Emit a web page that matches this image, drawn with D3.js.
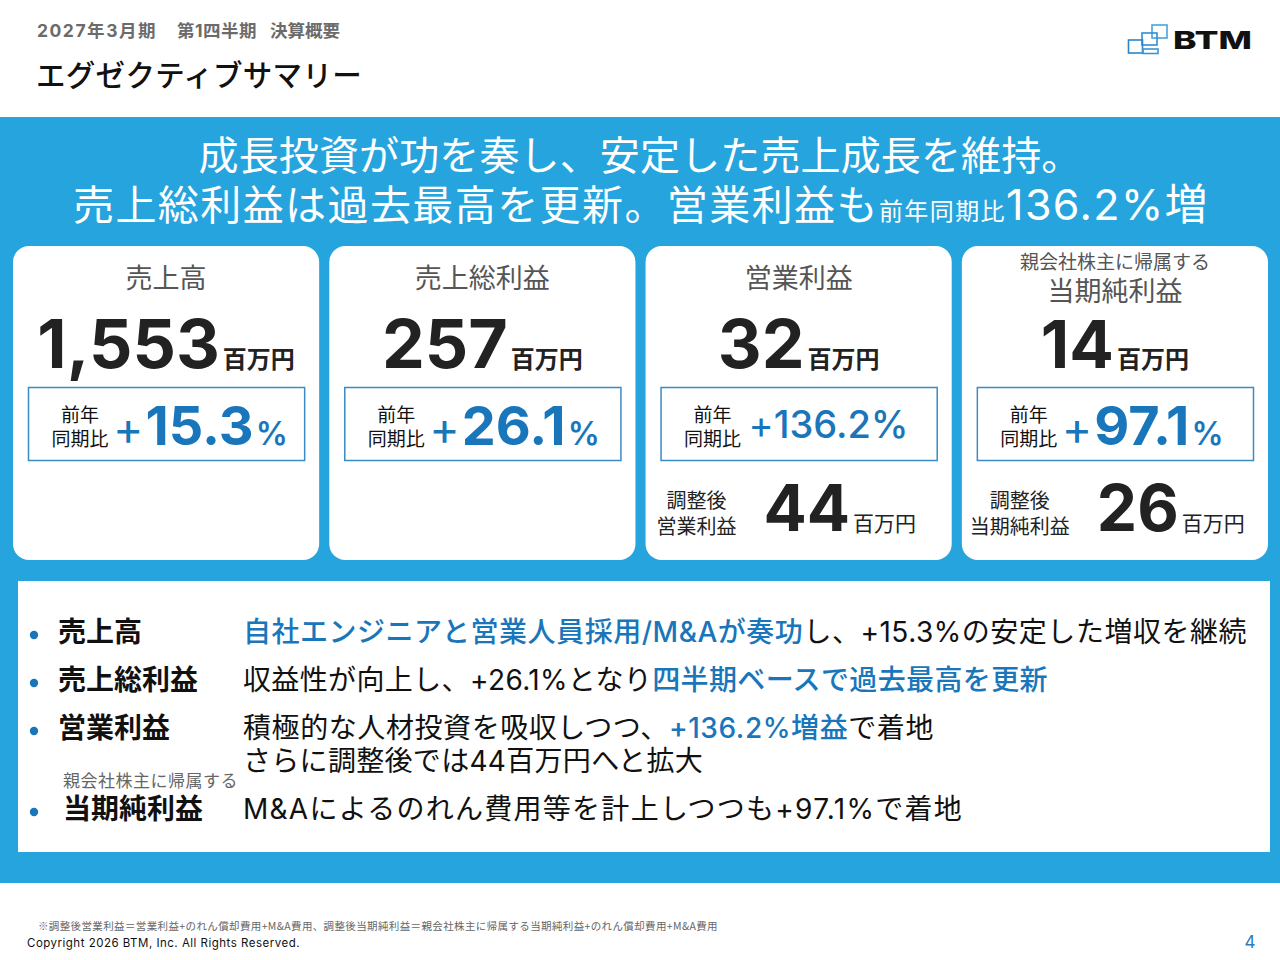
<!DOCTYPE html>
<html><head><meta charset="utf-8">
<script src="https://cdn.jsdelivr.net/npm/d3@7/dist/d3.min.js"></script>
<style>
html,body{margin:0;padding:0;background:#fff;}
svg{display:block;font-family:"Inter","Noto Sans CJK JP",sans-serif;}
</style></head>
<body>
<svg id="c" width="1280" height="960"></svg>
<script>
// ---------- data ----------
const headerPeriod = ["2027年3月期", "第1四半期", "決算概要"];
const pageTitle = "エグゼクティブサマリー";
const headline1 = "成長投資が功を奏し、安定した売上成長を維持。";
const headline2 = ["売上総利益は過去最高を更新。営業利益も", "前年同期比", "136.2%増"];
const cardTitles = ["売上高", "売上総利益", "営業利益", "当期純利益"];
const cardSubTitles = ["", "", "", "親会社株主に帰属する"];
const cardValues = [1553, 257, 32, 14];
const yoyValues = [15.3, 26.1, 136.2, 97.1];
const adjLabels = [null, null, ["調整後", "営業利益"], ["調整後", "当期純利益"]];
const adjValues = [null, null, 44, 26];
const unitLabel = "百万円";
const yoyLabel = ["前年", "同期比"];
const bulletLabels = ["売上高", "売上総利益", "営業利益", "当期純利益"];
const bulletSubLabels = ["", "", "", "親会社株主に帰属する"];
const bulletTexts = [
  [[["自社エンジニアと営業人員採用/M&Aが奏功", true], ["し、+15.3%の安定した増収を継続", false]]],
  [[["収益性が向上し、+26.1%となり", false], ["四半期ベースで過去最高を更新", true]]],
  [[["積極的な人材投資を吸収しつつ、", false], ["+136.2%増益", true], ["で着地", false]],
   [["さらに調整後では44百万円へと拡大", false]]],
  [[["M&Aによるのれん費用等を計上しつつも+97.1%で着地", false]]]
];
const footnote = "※調整後営業利益＝営業利益+のれん償却費用+M&A費用、調整後当期純利益＝親会社株主に帰属する当期純利益+のれん償却費用+M&A費用";
const copyright = "Copyright 2026 BTM, Inc. All Rights Reserved.";
const pageNo = "4";

// ---------- layout ----------
const BAND = "#26a4de", BLUE = "#1a76bb", BOX = "#3a8bc6", DARK = "#222", GRAY = "#555";
const svg = d3.select("#c");

// spread a text's characters so it spans a target width (layout helper)
function fit(sel, target) {
  const len = sel.node().getComputedTextLength();
  const n = sel.text().length;
  sel.attr("letter-spacing", ((target - len) / n).toFixed(3));
  return sel;
}

// header
const hx = [37, 177, 270], hw = [120, 80, 70];
svg.selectAll("text.hp").data(headerPeriod).join("text").attr("class", "hp")
  .attr("x", (d, i) => hx[i]).attr("y", 37).attr("font-size", 17.5).attr("font-weight", 700)
  .attr("fill", "#6b6b6b").text(d => d)
  .each(function (d, i) { fit(d3.select(this), hw[i]); });
fit(svg.append("text").attr("x", 36).attr("y", 86).attr("font-size", 29.5).attr("fill", "#111")
  .attr("font-weight", 500).text(pageTitle), 326);

// logo
const lg = svg.append("g").attr("fill", "none").attr("stroke-width", 1.6);
[[1152, 25, 15, 13, "#4aa3dc"], [1142, 33, 15, 12, "#2f8fd2"], [1128.5, 40, 14, 13, "#2a86cc"], [1143, 49, 15, 4.5, "#3a96d6"]]
  .forEach(r => lg.append("rect").attr("x", r[0]).attr("y", r[1]).attr("width", r[2]).attr("height", r[3]).attr("stroke", r[4]));
svg.append("text").attr("x", 1173).attr("y", 49).attr("font-size", 25).attr("font-weight", 800)
  .attr("fill", "#111").attr("textLength", 79).attr("lengthAdjust", "spacingAndGlyphs").text("BTM");

// blue band
svg.append("rect").attr("x", 0).attr("y", 117).attr("width", 1280).attr("height", 766).attr("fill", BAND);

// headline
fit(svg.append("text").attr("x", 640).attr("y", 170).attr("text-anchor", "middle").attr("font-size", 40)
  .attr("fill", "#fff").attr("font-weight", 400).text(headline1), 883);
const h2 = svg.append("text").attr("x", 641).attr("y", 220).attr("text-anchor", "middle")
  .attr("fill", "#fff").attr("font-weight", 400);
h2.append("tspan").attr("font-size", 41).text(headline2[0]);
h2.append("tspan").attr("font-size", 24).text(headline2[1]);
h2.append("tspan").attr("font-size", 43).text(headline2[2]);
fit(h2, 1136);

// cards
const xCard = d3.scaleBand().domain(d3.range(cardTitles.length)).range([13, 1268]).paddingInner(0.032);
const bw = xCard.bandwidth();
const fmtVal = d3.format(",");
const cards = svg.selectAll("g.card").data(cardTitles.map((t, i) => ({
  i, title: t, sub: cardSubTitles[i], val: cardValues[i], yoy: yoyValues[i], adjL: adjLabels[i], adjV: adjValues[i]
}))).join("g").attr("class", "card").attr("transform", d => `translate(${xCard(d.i)},246)`);

cards.append("rect").attr("width", bw).attr("height", 314).attr("rx", 16).attr("fill", "#fff");

cards.each(function (d) {
  const g = d3.select(this);
  const cx = bw / 2;
  if (d.sub) {
    g.append("text").attr("x", cx).attr("y", 23).attr("text-anchor", "middle").attr("font-size", 19)
      .attr("fill", GRAY).text(d.sub);
    g.append("text").attr("x", cx).attr("y", 55).attr("text-anchor", "middle").attr("font-size", 27)
      .attr("fill", GRAY).text(d.title);
  } else {
    g.append("text").attr("x", cx).attr("y", 42).attr("text-anchor", "middle").attr("font-size", 27)
      .attr("fill", GRAY).text(d.title);
  }
  const big = g.append("text").attr("x", cx).attr("y", 122).attr("text-anchor", "middle").attr("fill", DARK);
  big.append("tspan").attr("font-size", d.sub ? 66 : 68).attr("font-weight", 700).text(fmtVal(d.val));
  big.append("tspan").attr("font-size", 24).attr("font-weight", 700).attr("dx", 3).text(unitLabel);

  // yoy box
  g.append("rect").attr("x", 15.5).attr("y", 141.5).attr("width", bw - 30).attr("height", 73)
    .attr("fill", "none").attr("stroke", BOX).attr("stroke-width", 1.5);
  g.append("text").attr("x", 67).attr("y", 176).attr("text-anchor", "middle").attr("font-size", 19)
    .attr("fill", "#111").text(yoyLabel[0]);
  g.append("text").attr("x", 67).attr("y", 200).attr("text-anchor", "middle").attr("font-size", 19)
    .attr("fill", "#111").text(yoyLabel[1]);
  const small = d.yoy >= 100;
  const yt = g.append("text").attr("x", small ? 103 : 100).attr("y", small ? 192 : 199).attr("fill", BLUE);
  yt.append("tspan").attr("font-size", small ? 38 : 46).attr("font-weight", 400).text("+");
  yt.append("tspan").attr("font-size", small ? 38 : 54).attr("font-weight", small ? 500 : 700)
    .attr("dx", small ? 0 : 2).text(d3.format(".1f")(d.yoy));
  yt.append("tspan").attr("font-size", small ? 38 : 32).attr("font-weight", small ? 500 : 600)
    .attr("dx", small ? 0 : 2).text("%");
  if (small) fit(yt, 160);

  if (d.adjL) {
    const lx = d.i === 2 ? 51 : 58;
    g.append("text").attr("x", lx).attr("y", 262).attr("text-anchor", "middle").attr("font-size", 20)
      .attr("fill", "#222").text(d.adjL[0]);
    g.append("text").attr("x", lx).attr("y", 288).attr("text-anchor", "middle").attr("font-size", 20)
      .attr("fill", "#222").text(d.adjL[1]);
    const at = g.append("text").attr("x", d.i === 2 ? 118 : 135).attr("y", 285).attr("fill", DARK);
    at.append("tspan").attr("font-size", 64).attr("font-weight", 700).text(d.adjV);
    at.append("tspan").attr("font-size", 21).attr("dx", 3).text(unitLabel);
  }
});

// summary box
svg.append("rect").attr("x", 18).attr("y", 581).attr("width", 1252).attr("height", 271).attr("fill", "#fff");
const lineY = [[642], [690], [738, 771], [819]];
const lineW = [[1004], [805], [691, 460], [720]];
const labelY = [642, 690, 738, 819];
bulletLabels.forEach((lab, i) => {
  svg.append("circle").attr("cx", 34).attr("cy", labelY[i] - 7).attr("r", 4.2).attr("fill", BLUE);
  const lx = bulletSubLabels[i] ? 63 : 58;
  if (bulletSubLabels[i]) {
    fit(svg.append("text").attr("x", 63).attr("y", 787).attr("font-size", 17).attr("fill", "#666")
      .text(bulletSubLabels[i]), 175);
  }
  svg.append("text").attr("x", lx).attr("y", labelY[i]).attr("font-size", 28).attr("font-weight", 700)
    .attr("fill", "#111").text(lab);
  bulletTexts[i].forEach((line, j) => {
    const t = svg.append("text").attr("x", 243).attr("y", lineY[i][j]).attr("font-size", 28).attr("fill", "#111");
    line.forEach(seg => t.append("tspan").attr("fill", seg[1] ? BLUE : "#111")
      .attr("font-weight", seg[1] ? 500 : 400).text(seg[0]));
    fit(t, lineW[i][j]);
  });
});

// footer
fit(svg.append("text").attr("x", 38).attr("y", 930).attr("font-size", 10.5).attr("fill", "#666")
  .style("font-family", "'Noto Sans CJK JP', sans-serif").text(footnote), 680);
fit(svg.append("text").attr("x", 27).attr("y", 947).attr("font-size", 11.5).attr("fill", "#111").text(copyright), 273);
svg.append("text").attr("x", 1250).attr("y", 948).attr("text-anchor", "middle").attr("font-size", 17)
  .attr("fill", "#2b7bbd").text(pageNo);
</script>
</body></html>
